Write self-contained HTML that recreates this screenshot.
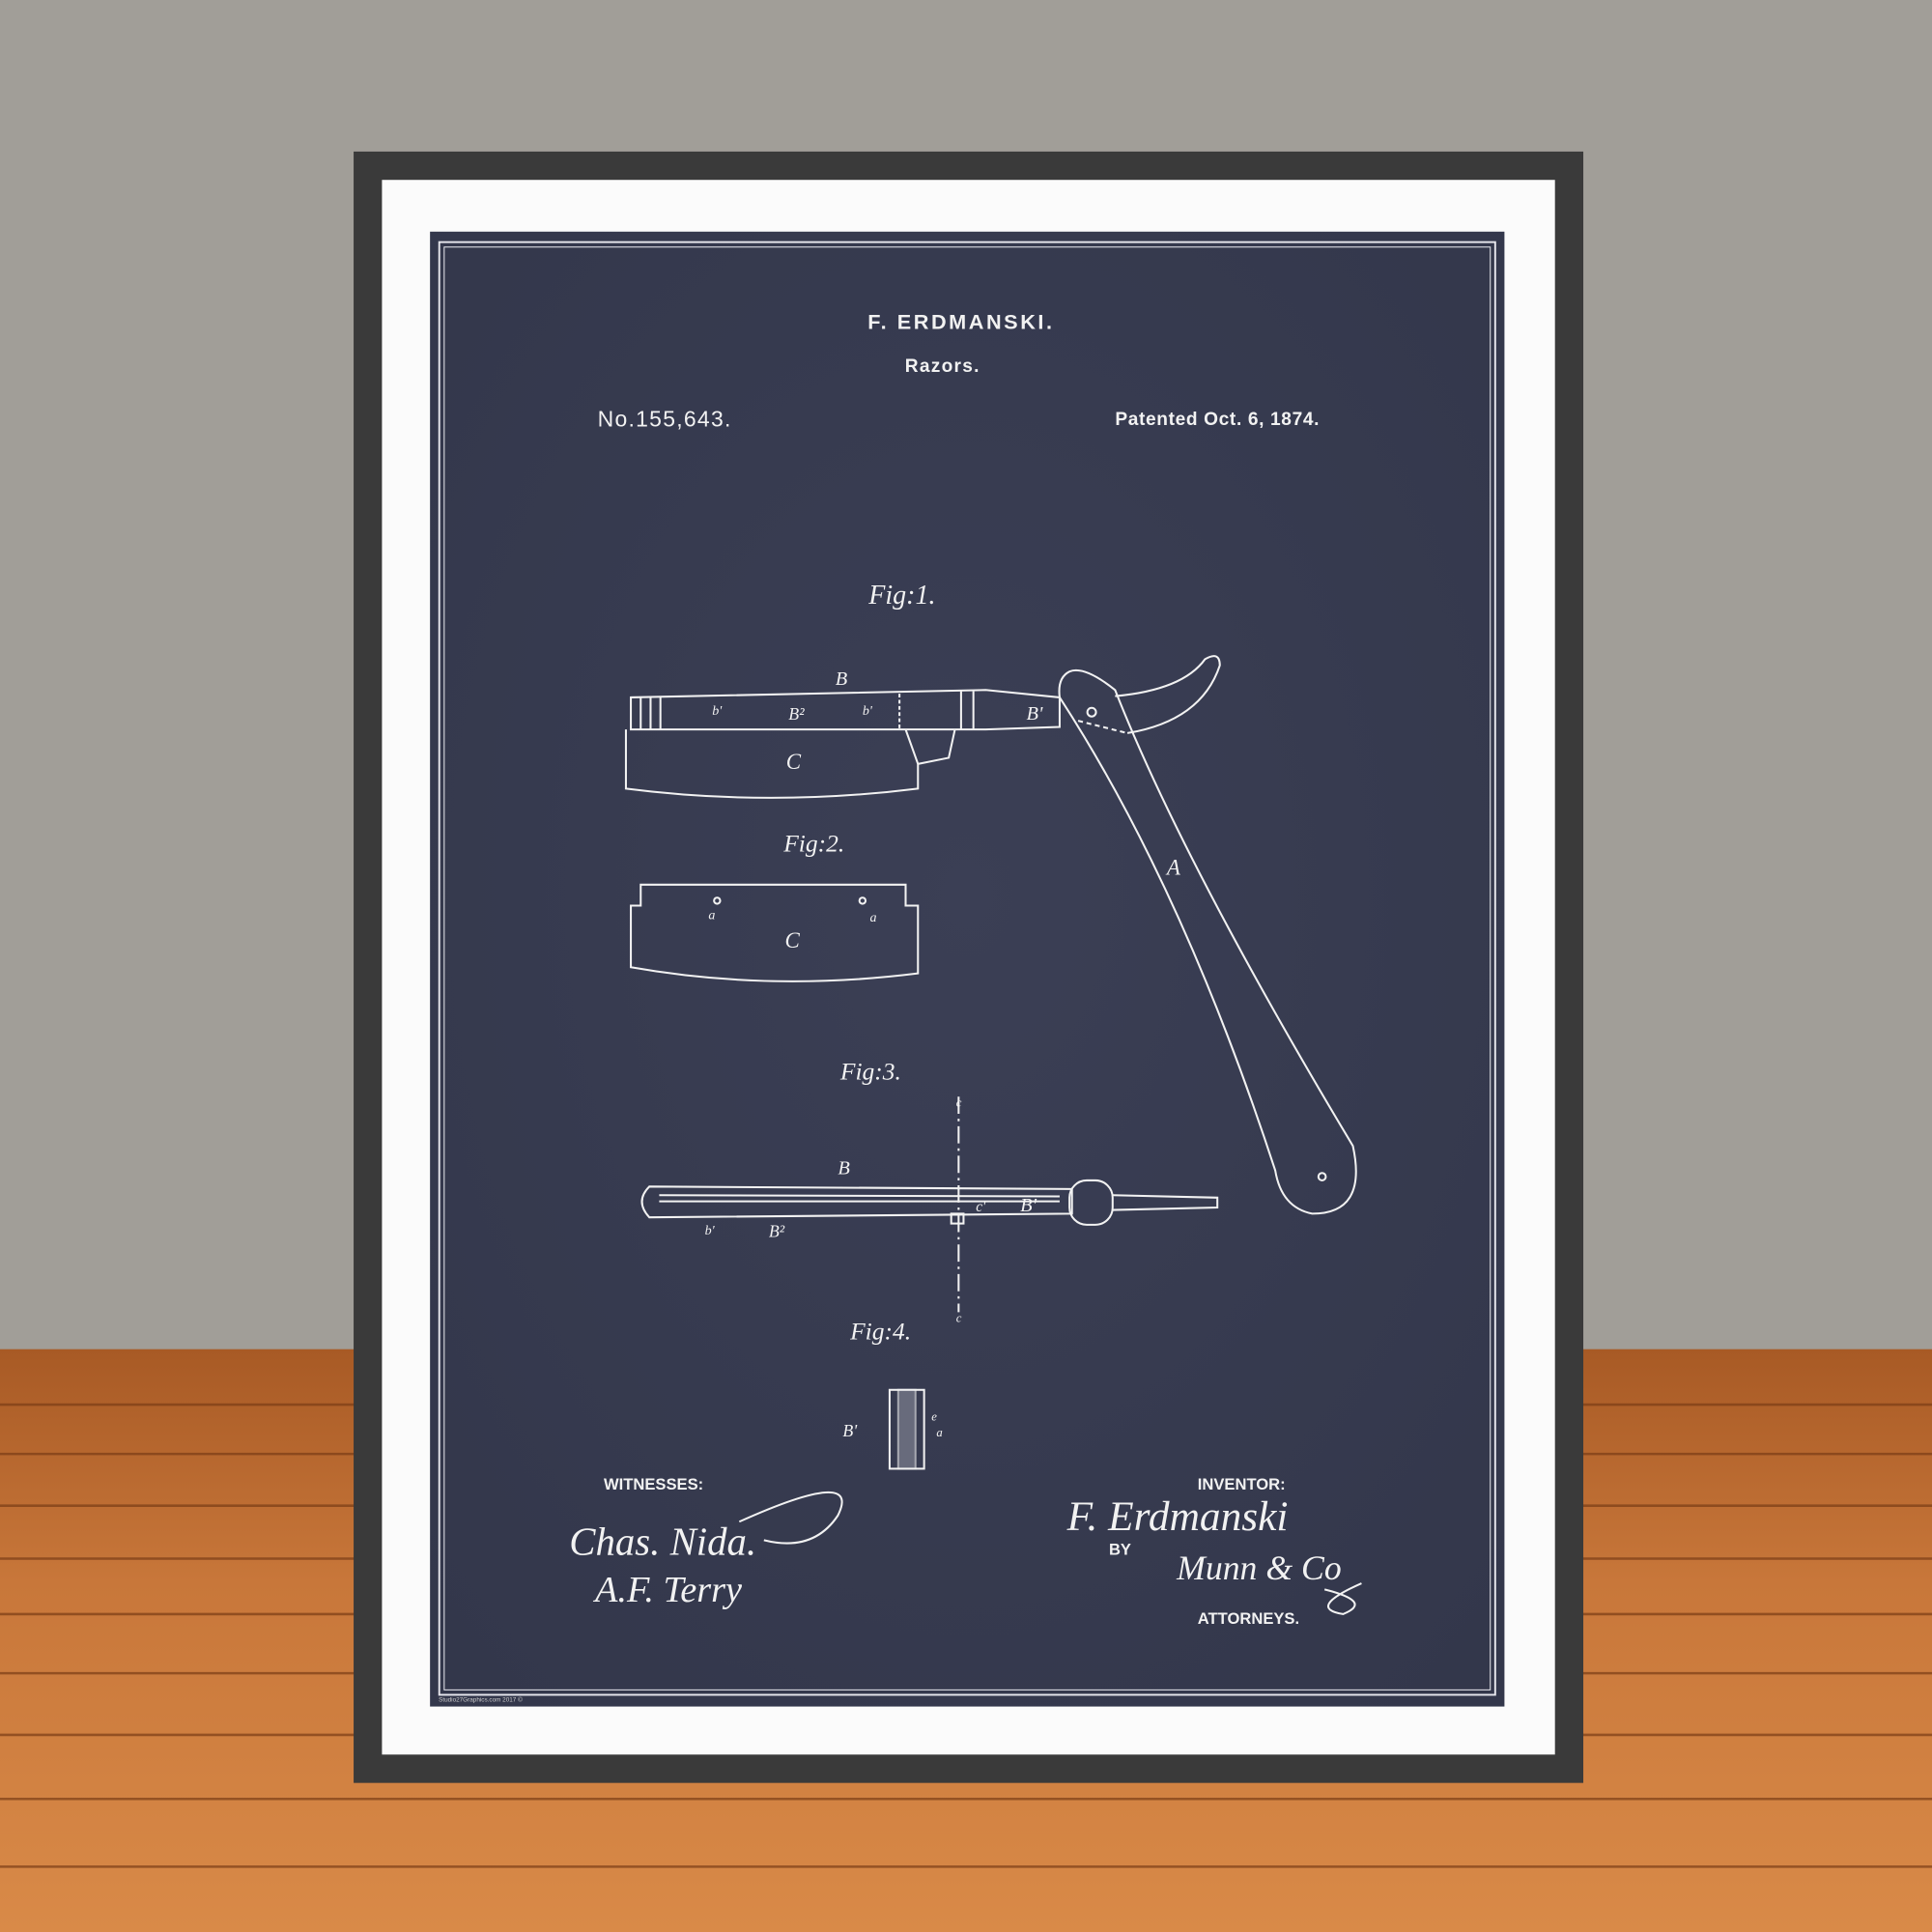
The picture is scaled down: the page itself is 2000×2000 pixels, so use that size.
<!DOCTYPE html>
<html><head><meta charset="utf-8"><style>
html,body{margin:0;padding:0;width:2000px;height:2000px;overflow:hidden;background:#a19e98}
svg{display:block}
</style></head><body>
<svg width="2000" height="2000" viewBox="0 0 1568 1568" xmlns="http://www.w3.org/2000/svg">
<defs>
<linearGradient id="wood" x1="0" y1="0" x2="0" y2="1">
<stop offset="0" stop-color="#a85a25"/><stop offset="0.4" stop-color="#c8773a"/><stop offset="1" stop-color="#d98a48"/>
</linearGradient>
<radialGradient id="bp" cx="0.5" cy="0.45" r="0.7">
<stop offset="0" stop-color="#3b3f55"/><stop offset="1" stop-color="#33374b"/>
</radialGradient>
</defs>
<rect width="1568" height="1095" fill="#a19e98"/>
<rect y="1095" width="1568" height="473" fill="url(#wood)"/>
<g stroke="#7a3d16" stroke-width="2" opacity="0.7">
<line x1="0" y1="1140" x2="1568" y2="1140"/><line x1="0" y1="1180" x2="1568" y2="1180"/>
<line x1="0" y1="1222" x2="1568" y2="1222"/><line x1="0" y1="1265" x2="1568" y2="1265"/>
<line x1="0" y1="1310" x2="1568" y2="1310"/><line x1="0" y1="1358" x2="1568" y2="1358"/>
<line x1="0" y1="1408" x2="1568" y2="1408"/><line x1="0" y1="1460" x2="1568" y2="1460"/>
<line x1="0" y1="1515" x2="1568" y2="1515"/>
</g>
<rect x="287" y="123" width="998" height="1324" fill="#3a3a3a"/>
<rect x="310" y="146" width="952" height="1278" fill="#fbfbfb"/>
<rect x="349" y="188" width="872" height="1197" fill="url(#bp)"/>
<rect x="356.5" y="196.5" width="857" height="1179" fill="none" stroke="#e8e8ee" stroke-width="1.5"/>
<rect x="360.5" y="200.5" width="849" height="1171" fill="none" stroke="#e8e8ee" stroke-width="0.8"/>
<g fill="#f2f2f2" font-family="Liberation Sans, sans-serif" font-weight="bold">
<text x="780" y="267" font-size="17" text-anchor="middle" letter-spacing="2">F. ERDMANSKI.</text>
<text x="765" y="302" font-size="15" text-anchor="middle" letter-spacing="1">Razors.</text>
<text x="485" y="346" font-size="18" font-weight="normal" letter-spacing="1">No.155,643.</text>
<text x="905" y="345" font-size="15" letter-spacing="0.5">Patented Oct. 6, 1874.</text>
<text x="490" y="1209" font-size="13">WITNESSES:</text>
<text x="972" y="1209" font-size="13">INVENTOR:</text>
<text x="900" y="1262" font-size="13">BY</text>
<text x="972" y="1318" font-size="13">ATTORNEYS.</text>
</g>
<g fill="#f2f2f2" font-family="Liberation Serif, serif" font-style="italic">
<text x="705" y="490" font-size="22">Fig:1.</text>
<text x="636" y="691" font-size="20">Fig:2.</text>
<text x="682" y="876" font-size="20">Fig:3.</text>
<text x="690" y="1087" font-size="20">Fig:4.</text>
<text x="678" y="556" font-size="16">B</text>
<text x="640" y="584" font-size="14">B²</text>
<text x="578" y="580" font-size="11">b'</text>
<text x="700" y="580" font-size="11">b'</text>
<text x="833" y="584" font-size="16">B'</text>
<text x="638" y="624" font-size="18">C</text>
<text x="947" y="710" font-size="18">A</text>
<text x="637" y="769" font-size="18">C</text>
<text x="575" y="746" font-size="11">a</text>
<text x="706" y="748" font-size="11">a</text>
<text x="680" y="953" font-size="16">B</text>
<text x="624" y="1004" font-size="14">B²</text>
<text x="572" y="1002" font-size="11">b'</text>
<text x="792" y="983" font-size="12">c'</text>
<text x="828" y="983" font-size="16">B'</text>
<text x="776" y="898" font-size="10">c</text>
<text x="776" y="1073" font-size="10">c</text>
<text x="684" y="1166" font-size="14">B'</text>
<text x="756" y="1153" font-size="10">e</text>
<text x="760" y="1166" font-size="10">a</text>
<text x="462" y="1262" font-size="32">Chas. Nida.</text>
<text x="483" y="1300" font-size="30">A.F. Terry</text>
<text x="866" y="1242" font-size="34">F. Erdmanski</text>
<text x="955" y="1282" font-size="28">Munn &amp; Co</text>
</g>
<g fill="none" stroke="#f2f2f2" stroke-width="1.6">
<!-- fig1 back -->
<path d="M512,566 L800,560 L860,566 L860,590 L800,592 L512,592 Z"/>
<line x1="520" y1="566" x2="520" y2="592"/><line x1="528" y1="566" x2="528" y2="592"/><line x1="536" y1="566" x2="536" y2="592"/>
<line x1="730" y1="563" x2="730" y2="592" stroke-dasharray="3 2"/>
<line x1="780" y1="561" x2="780" y2="592"/><line x1="790" y1="561" x2="790" y2="592"/>
<path d="M508,592 L508,640 Q625,655 745,640 L745,620 L770,615 L775,592"/>
<path d="M735,592 L745,620" />
<!-- handle -->
<path d="M868,545 Q880,540 905,560 Q960,700 1098,930 Q1110,985 1065,985 Q1040,980 1035,950 Q960,720 860,566 Q858,550 868,545 Z"/>
<path d="M905,565 Q960,560 978,535 Q990,528 990,540 Q975,585 915,595"/>
<path d="M875,585 L915,595" stroke-dasharray="4 3"/>
<circle cx="886" cy="578" r="3.5"/>
<circle cx="1073" cy="955" r="3"/>
<!-- fig2 -->
<path d="M512,735 L520,735 L520,718 L735,718 L735,735 L745,735 L745,790 Q625,805 512,785 Z"/>
<circle cx="582" cy="731" r="2.5"/><circle cx="700" cy="731" r="2.5"/>
<!-- fig3 -->
<path d="M527,963 L870,965 L870,985 L527,988 Q515,975 527,963 Z"/>
<line x1="535" y1="975" x2="860" y2="975"/>
<line x1="535" y1="970" x2="860" y2="971"/>
<rect x="868" y="958" width="35" height="36" rx="14"/>
<path d="M903,970 L988,972 L988,980 L903,982"/>
<line x1="778" y1="890" x2="778" y2="1065" stroke-dasharray="14 4 2 4"/>
<rect x="772" y="985" width="10" height="8"/>
<!-- fig4 -->
<rect x="722" y="1128" width="28" height="64"/>
<rect x="729" y="1128" width="14" height="64" fill="#8a8c9a" opacity="0.6"/>
<!-- flourish -->
<path d="M600,1235 Q700,1190 680,1230 Q660,1260 620,1250"/>
<path d="M1075,1290 Q1115,1300 1090,1310 Q1060,1305 1105,1285"/>
</g>
<text x="356" y="1381" font-family="Liberation Sans, sans-serif" font-size="5" fill="#ccc">Studio27Graphics.com 2017 ©</text>
</svg>
</body></html>
